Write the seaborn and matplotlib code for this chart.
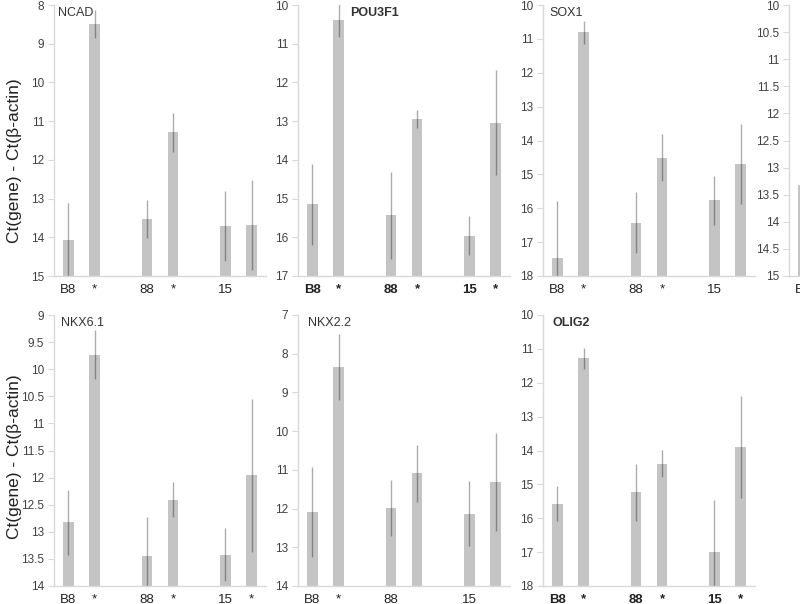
import numpy as np
import matplotlib
matplotlib.use("Agg")
import matplotlib.pyplot as plt
import seaborn as sns

# bar slots: two bars per cell line, gap between groups
positions = [0, 1, 3, 4, 6, 7]

ncad = [14.08, 8.49, 13.53, 11.29, 13.70, 13.68]
ncad_err = [0.97, 0.36, 0.50, 0.50, 0.90, 1.17]
ncad_labels = ["B8", "*", "88", "*", "15", ""]

pou3f1 = [15.15, 10.38, 15.43, 12.95, 15.96, 13.04]
pou3f1_err = [1.05, 0.45, 1.12, 0.24, 0.50, 1.36]
pou3f1_labels = ["B8", "*", "88", "*", "15", "*"]

sox1 = [17.46, 10.81, 16.43, 14.51, 15.77, 14.69]
sox1_err = [1.67, 0.34, 0.90, 0.70, 0.71, 1.18]
sox1_labels = ["B8", "*", "88", "*", "15", ""]

# fourth panel of the top row is cut by the picture edge, only one bar shows
cut_pos = [0]
cut_vals = [13.33]
cut_labels = ["B8"]

nkx61 = [12.82, 9.73, 13.45, 12.41, 13.42, 11.96]
nkx61_err = [0.60, 0.45, 0.72, 0.32, 0.49, 1.41]
nkx61_labels = ["B8", "*", "88", "*", "15", "*"]

nkx22 = [12.09, 8.35, 11.99, 11.09, 12.13, 11.31]
nkx22_err = [1.16, 0.85, 0.72, 0.74, 0.83, 1.27]
nkx22_labels = ["B8", "*", "88", "", "15", ""]

olig2 = [15.57, 11.28, 15.23, 14.39, 17.00, 13.90]
olig2_err = [0.51, 0.30, 0.84, 0.40, 1.53, 1.51]
olig2_labels = ["B8", "*", "88", "*", "15", "*"]

BAR = "#c4c4c4"
SPINE = "#d9d9d9"
TXT = "#404040"

sns.set_style("white")
plt.rcParams["font.family"] = ["Liberation Sans", "DejaVu Sans"]

fig = plt.figure(figsize=(8, 6.04), dpi=100)

W, H = 800, 604


def make_ax(x0, top, bottom, width=212):
    return fig.add_axes([x0 / W, 1 - bottom / H, width / W, (bottom - top) / H])


def panel(ax, pos, vals, err, labels, ylo, yhi, step, title=None, tx=0.03, bold=False):
    weight = "bold" if bold else "normal"
    vals = np.array(vals)
    sns.barplot(x=pos, y=yhi - vals, bottom=vals, native_scale=True, width=0.4,
                color=BAR, linewidth=0, errorbar=None, ax=ax)
    if err is not None:
        ax.errorbar(pos, vals, yerr=err, fmt="none", ecolor=(0, 0, 0, 0.33),
                    elinewidth=1.0, capsize=0)
    ax.set_xlim(-0.55, 7.55)
    ax.set_ylim(yhi, ylo)
    ticks = np.arange(ylo, yhi + step / 2, step)
    ax.set_yticks(ticks, [f"{t:g}" for t in ticks])
    ax.set_xticks(pos, labels, fontweight=weight)
    ax.tick_params(axis="y", left=True, length=4, width=0.8, color=SPINE,
                   labelsize=8.5, labelcolor=TXT, pad=3)
    ax.tick_params(axis="x", bottom=False, labelsize=9.5, labelcolor="#222222", pad=2)
    for s in ("top", "right"):
        ax.spines[s].set_visible(False)
    for s in ("left", "bottom"):
        ax.spines[s].set_color(SPINE)
        ax.spines[s].set_linewidth(1.0)
    ax.set_xlabel("")
    ax.set_ylabel("")
    ax.grid(False)
    if title:
        ax.text(tx, 0.972, title, transform=ax.transAxes, ha="left", va="center",
                fontsize=9, color="#333333", fontweight=weight)


r1 = (5, 276)
r2 = (315, 586)

panel(make_ax(54, *r1), positions, ncad, ncad_err, ncad_labels, 8, 15, 1, "NCAD", 0.02)
panel(make_ax(298, *r1), positions, pou3f1, pou3f1_err, pou3f1_labels, 10, 17, 1,
      "POU3F1", 0.245, bold=True)
panel(make_ax(543, *r1), positions, sox1, sox1_err, sox1_labels, 10, 18, 1, "SOX1", 0.03)
panel(make_ax(789, *r1), cut_pos, cut_vals, None, cut_labels, 10, 15, 0.5)

panel(make_ax(54, *r2), positions, nkx61, nkx61_err, nkx61_labels, 9, 14, 0.5, "NKX6.1", 0.033)
panel(make_ax(298, *r2), positions, nkx22, nkx22_err, nkx22_labels, 7, 14, 1, "NKX2.2", 0.047)
panel(make_ax(543, *r2), positions, olig2, olig2_err, olig2_labels, 10, 18, 1,
      "OLIG2", 0.047, bold=True)

ylab = "Ct(gene) - Ct(β-actin)"
fig.text(15 / W, 1 - 161 / H, ylab, rotation=90, ha="center", va="center",
         fontsize=12.5, color="#222222")
fig.text(15 / W, 1 - 457 / H, ylab, rotation=90, ha="center", va="center",
         fontsize=12.5, color="#222222")

fig.savefig("out.png", dpi=100)
